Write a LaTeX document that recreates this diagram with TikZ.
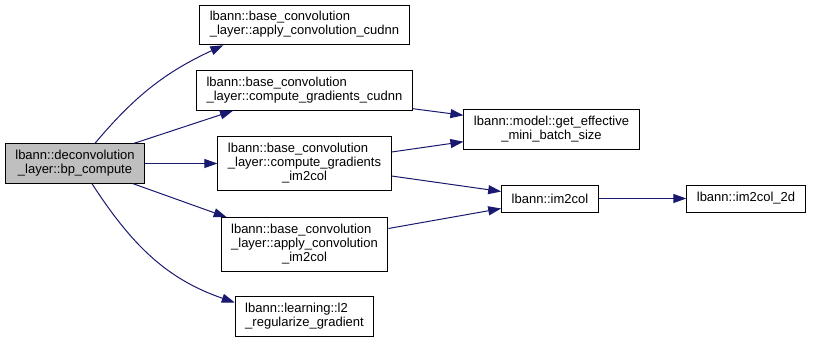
\documentclass[tikz,border=0pt]{standalone}
\usepackage{fontspec}
\setmainfont{Liberation Sans}
\usetikzlibrary{arrows.meta}

\definecolor{callblue}{HTML}{191970}
\definecolor{rootgray}{HTML}{BFBFBF}

% first line flush left, the rest centred
\newcommand{\fname}[2]{\begin{tabular}{@{}c@{}}\multicolumn{1}{@{}l@{}}{#1}\\#2\end{tabular}}

\begin{document}
\begin{tikzpicture}[x=1pt, y=1pt, line width=1pt, >={Triangle[length=13pt, width=9pt]}]
  \tikzstyle{func} = [rectangle, draw, fill=white, inner xsep=10pt, inner ysep=5.5pt, minimum height=27pt, font=\fontsize{13}{14.2}\selectfont]
  \tikzstyle{call} = [->, callblue]

  \useasboundingbox (0,0) rectangle (813,-343);

  \node [func, fill=rootgray] (root) at (75,-163.5) {\fname{lbann::deconvolution}{\_layer::bp\_compute}};
  \node [func, right of=root, node distance=229.5pt] (cgi) {\fname{lbann::base\_convolution}{\_layer::compute\_gradients\\\_im2col}};
  \node [func, above of=cgi, node distance=73pt] (cgc) {\fname{lbann::base\_convolution}{\_layer::compute\_gradients\_cudnn}};
  \node [func, above of=cgc, node distance=65.5pt] (acc) {\fname{lbann::base\_convolution}{\_layer::apply\_convolution\_cudnn}};
  \node [func, below of=cgi, node distance=81pt] (aci) {\fname{lbann::base\_convolution}{\_layer::apply\_convolution\\\_im2col}};
  \node [func, below of=aci, node distance=72pt] (l2) {\fname{lbann::learning::l2}{\_regularize\_gradient}};
  \node [func, right of=cgi, node distance=245.5pt, yshift=-35pt] (im2col) {lbann::im2col};
  \node [func, above of=im2col, node distance=69pt, xshift=1.5pt] (geb) {\fname{lbann::model::get\_effective}{\_mini\_batch\_size}};
  \node [func, right of=im2col, node distance=196pt] (im2col2d) {lbann::im2col\_2d};

  \draw [call] ([xshift=20pt]root.north) to[out=50, in=205] ([xshift=24pt]acc.south west);
  \draw [call] ([xshift=-11pt]root.north east) -- ([xshift=37pt]cgc.south west);
  \draw [call] (root) -- (cgi);
  \draw [call] ([xshift=-12pt]root.south east) -- ([xshift=6pt]aci.north west);
  \draw [call] ([xshift=17pt]root.south) to[out=-57, in=161] ([yshift=14pt]l2.west);
  \draw [call] ([yshift=2pt]cgc.south east) -- ([yshift=-6pt]geb.north west);
  \draw [call] ([yshift=11.5pt]cgi.east) -- ([yshift=8pt]geb.south west);
  \draw [call] ([yshift=-12.5pt]cgi.east) -- ([yshift=-7pt]im2col.north west);
  \draw [call] ([yshift=16pt]aci.east) -- ([yshift=4pt]im2col.south west);
  \draw [call] (im2col) -- (im2col2d);
\end{tikzpicture}
\end{document}
